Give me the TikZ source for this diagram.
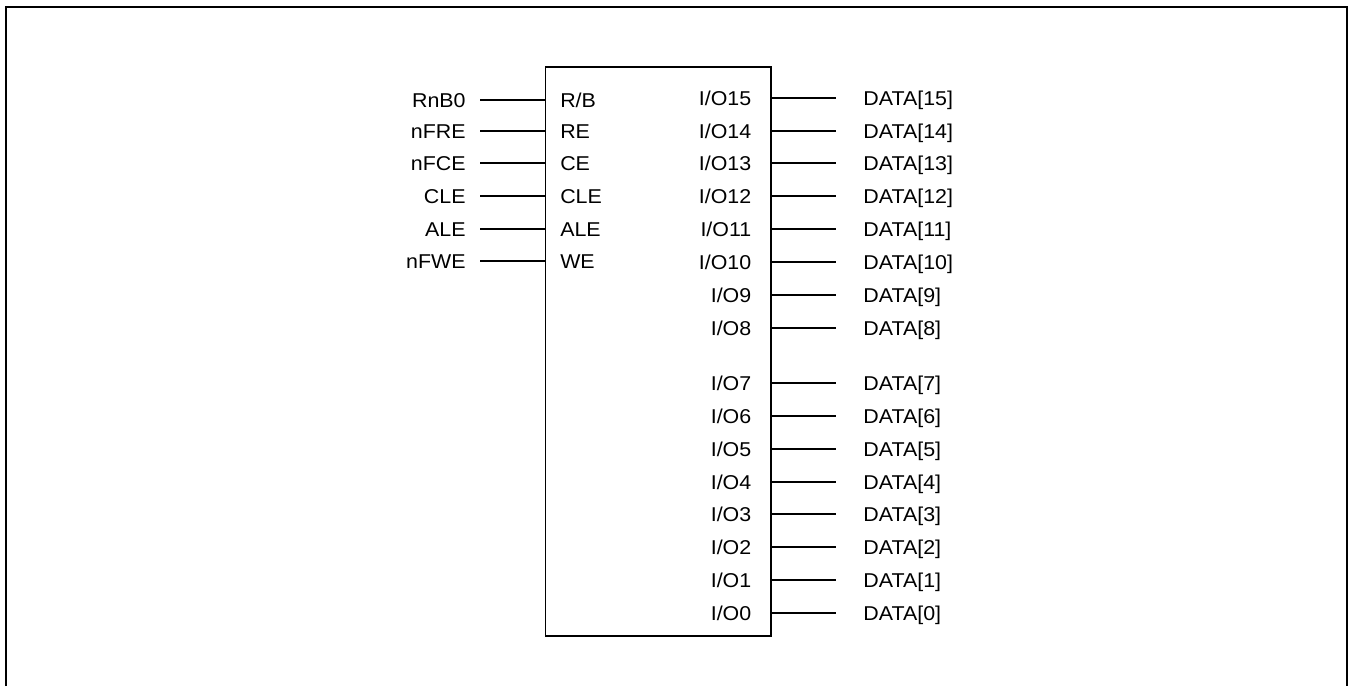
\documentclass[tikz,border=0pt]{standalone}
\usepackage{fontspec}
\setmainfont[FakeStretch=1.07]{Liberation Sans}
\begin{document}
\begin{tikzpicture}[x=0.5pt,y=-0.5pt,
    pin/.style={line width=0.65pt},
    sig/.style={font=\fontsize{10}{12}\selectfont, text height=7.2pt, text depth=0pt, inner ysep=0pt}]
  \useasboundingbox (0,0) rectangle (1349,686);
  \draw[line width=1pt] (6,686) -- (6,7) -- (1347,7) -- (1347,686);
  \node[draw, line width=0.65pt, minimum width=112.75pt, minimum height=284.5pt, inner sep=0pt] (chip) at (658.25,351.5) {};
  % control pins
  \node[sig, anchor=east, inner xsep=7pt] (nrb) at (480,100) {RnB0};
  \node[sig, anchor=east, inner xsep=7pt] (nre) at (480,131) {nFRE};
  \node[sig, anchor=east, inner xsep=7pt] (nce) at (480,163) {nFCE};
  \node[sig, anchor=east, inner xsep=7pt] (ncle) at (480,196) {CLE};
  \node[sig, anchor=east, inner xsep=7pt] (nale) at (480,229) {ALE};
  \node[sig, anchor=east, inner xsep=7pt] (nwe) at (480,261) {nFWE};
  \node[sig, anchor=west, inner xsep=7.5pt] (prb) at (chip.west |- nrb) {R/B};
  \node[sig, anchor=west, inner xsep=7.5pt] (pre) at (chip.west |- nre) {RE};
  \node[sig, anchor=west, inner xsep=7.5pt] (pce) at (chip.west |- nce) {CE};
  \node[sig, anchor=west, inner xsep=7.5pt] (pcle) at (chip.west |- ncle) {CLE};
  \node[sig, anchor=west, inner xsep=7.5pt] (pale) at (chip.west |- nale) {ALE};
  \node[sig, anchor=west, inner xsep=7.5pt] (pwe) at (chip.west |- nwe) {WE};
  \draw[pin] (nrb) -- (prb);
  \draw[pin] (nre) -- (pre);
  \draw[pin] (nce) -- (pce);
  \draw[pin] (ncle) -- (pcle);
  \draw[pin] (nale) -- (pale);
  \draw[pin] (nwe) -- (pwe);
  % data bus
  \foreach \i/\y in {15/98,14/131,13/163,12/196,11/229,10/262,9/295,8/328,
                     7/383,6/416,5/449,4/482,3/514,2/547,1/580,0/613} {
    \node[sig, anchor=east, inner xsep=10pt] (io\i) at (chip.east |- 0,\y) {I/O\i};
    \node[sig, anchor=west, inner xsep=13.5pt] (d\i) at (836,\y) {DATA[\i]};
    \draw[pin] (io\i) -- (d\i);
  }
\end{tikzpicture}
\end{document}
